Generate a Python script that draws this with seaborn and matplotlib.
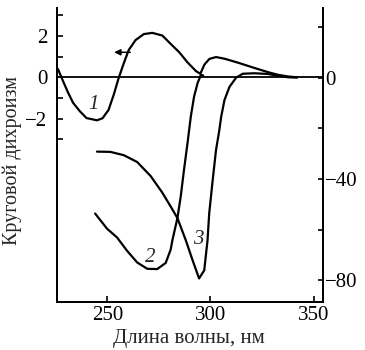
import numpy as np
import pandas as pd
import matplotlib
matplotlib.use("Agg")
import matplotlib.pyplot as plt
from matplotlib.ticker import FixedLocator
import seaborn as sns

# ---- data ----
# curve 1 : left axis
lam1 = [226.1, 228.5, 231.0, 233.4, 236.7, 239.9, 245.0, 247.7, 250.6, 253.1, 255.5, 258.0,
        260.4, 263.7, 267.7, 271.8, 276.7, 280.8, 284.9, 289.0, 293.0, 295.1, 297.1, 299.5,
        302.7, 306.8, 313.3, 321.4, 327.9, 332.8, 337.7, 342.0]
cd1 = [0.40, -0.17, -0.74, -1.23, -1.64, -1.97, -2.08, -1.98, -1.58, -0.85, -0.04, 0.68,
       1.32, 1.80, 2.09, 2.15, 2.02, 1.61, 1.21, 0.71, 0.30, 0.17, 0.62, 0.89,
       0.98, 0.90, 0.71, 0.45, 0.25, 0.12, 0.04, 0.0]

# curve 2 : right axis
lam2 = [244.1, 249.9, 254.7, 259.6, 264.5, 269.4, 274.2, 278.3, 280.7, 281.6, 284.0, 285.6,
        287.2, 288.9, 290.5, 292.1, 293.8, 295.4, 296.5]
cd2 = [-53.6, -59.6, -63.0, -68.3, -72.9, -75.4, -75.5, -73.1, -67.9, -64.0, -55.4, -46.9,
       -36.3, -25.8, -15.3, -7.4, -2.1, 1.1, 0.8]

# curve 3 : right axis
lam3 = [245.0, 251.5, 258.0, 264.5, 271.0, 276.7, 280.7, 284.0, 288.0, 291.3, 294.5, 297.0,
        298.6, 299.4, 301.1, 302.7, 304.3, 305.2, 306.8, 309.2, 312.5, 315.7, 321.4, 327.9,
        332.8, 337.7, 342.0]
cd3 = [-29.2, -29.3, -30.6, -33.3, -38.8, -45.4, -50.8, -55.4, -64.0, -71.9, -79.2, -76.0,
       -64.1, -53.6, -40.4, -28.6, -20.8, -15.5, -8.9, -3.7, 0.0, 1.5, 1.7, 1.4,
       0.7, 0.1, 0.0]

left_major = [-2, 0, 2]
left_minor = [-3, -1, 1, 3]
right_major = [-80, -40, 0]
right_minor = [-60, -20, 20]
x_ticks = [250, 300, 350]

xlabel = "Длина волны, нм"
ylabel = "Круговой дихроизм"

# ---- style ----
sns.set_style("ticks")
plt.rcParams["font.family"] = ["Liberation Serif", "DejaVu Serif"]
FS = 15

fig = plt.figure(figsize=(3.65, 3.5), dpi=100)
ax = fig.add_axes([0.156, 0.137, 0.728, 0.84])
ax2 = ax.twinx()

df1 = pd.DataFrame({"lam": lam1, "cd": cd1})
df2 = pd.DataFrame({"lam": lam2, "cd": cd2})
df3 = pd.DataFrame({"lam": lam3, "cd": cd3})

ax.axhline(0, color="black", lw=1.3, zorder=1)
kw = dict(color="black", lw=1.6, estimator=None, sort=False)
sns.lineplot(data=df1, x="lam", y="cd", ax=ax, **kw)
sns.lineplot(data=df2, x="lam", y="cd", ax=ax2, **kw)
sns.lineplot(data=df3, x="lam", y="cd", ax=ax2, **kw)

ax.set_xlim(225.6, 354.4)
ax.set_ylim(-10.87, 3.35)
ax2.set_ylim(-88.5, 27.4)

for a in (ax, ax2):
    a.spines["top"].set_visible(False)
    for s in a.spines.values():
        s.set_linewidth(1.3)
        s.set_color("black")

ax.set_xticks(x_ticks)
ax.set_xticklabels([str(v) for v in x_ticks])
ax.yaxis.set_major_locator(FixedLocator(left_major))
ax.yaxis.set_minor_locator(FixedLocator(left_minor))
ax.set_yticklabels(["\u22122", "0", "2"])
ax2.yaxis.set_major_locator(FixedLocator(right_major))
ax2.yaxis.set_minor_locator(FixedLocator(right_minor))
ax2.set_yticklabels(["\u221280", "\u221240", "0"])

ax.tick_params(axis="x", direction="in", length=4, width=1.2, labelsize=FS, pad=3, colors="black")
ax.tick_params(axis="y", which="both", direction="in", length=4, width=1.2, labelsize=FS, pad=7, colors="black")
ax.tick_params(axis="y", which="minor", labelleft=False)
ax2.tick_params(axis="y", which="both", direction="in", length=3.5, width=1.2, labelsize=FS, pad=2, colors="black")
ax2.set_ylabel("")

ax.set_xlabel(xlabel, fontsize=FS)
ax.xaxis.set_label_coords(0.497, -0.09)
ax.set_ylabel(ylabel, fontsize=14.5)
ax.yaxis.set_label_coords(-0.13, 0.483)

# curve labels and arrow
ax.text(243.2, -1.31, "1", fontsize=FS, style="italic", ha="center", va="center")
ax2.text(271, -70.8, "2", fontsize=FS, style="italic", ha="center", va="center")
ax2.text(293.9, -64, "3", fontsize=FS, style="italic", ha="center", va="center")
ax.annotate("", xy=(252.0, 1.21), xytext=(262.5, 1.21),
            arrowprops=dict(arrowstyle="-|>", color="black", lw=1.1, mutation_scale=9))

fig.savefig("out.png", dpi=100)
